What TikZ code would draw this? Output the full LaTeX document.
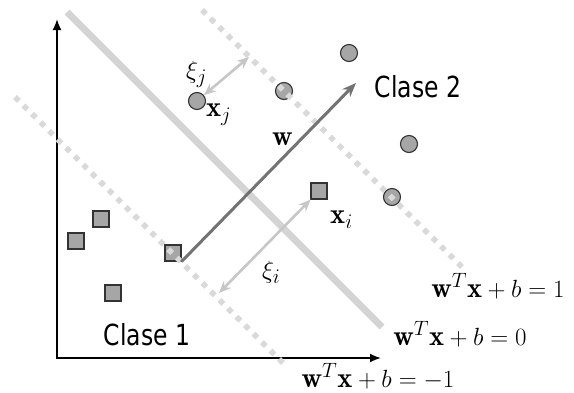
\documentclass[tikz,border=0pt]{standalone}
\usepackage{amsmath}
\usepackage{graphicx}
\usepackage{fontspec}
\newfontfamily\clasefont{DejaVu Sans}
\usetikzlibrary{arrows.meta,positioning}

\begin{document}
\begin{tikzpicture}[
  x=1pt, y=-1pt,
  axis/.style={{Latex[length=11pt,width=9pt]}-{Latex[length=11pt,width=9pt]}, line width=1.8pt, draw=black},
  plane/.style={line width=7pt, draw=black!17},
  margin/.style={line width=5.5pt, draw=black!15, dash pattern=on 5.5pt off 6.5pt},
  sqr/.style={rectangle, draw=black!80, fill=black!35, line width=1.1pt,
              minimum size=16pt, inner sep=0pt},
  crc/.style={circle, draw=black!80, fill=black!35, line width=1.1pt,
              minimum size=17pt, inner sep=0pt},
  normal/.style={-{Stealth[length=14pt,width=11pt]}, line width=3pt, draw=black!55},
  slack/.style={{Stealth[length=12pt,width=10pt]}-{Stealth[length=12pt,width=10pt]},
                line width=2.6pt, draw=black!22},
  clase/.style={inner sep=0pt, anchor=base, font=\clasefont\fontsize{29}{32}\selectfont},
  eq/.style={inner sep=0pt, anchor=base, font=\fontsize{28.5}{32}\selectfont},
  lbl/.style={inner sep=0pt, anchor=base west, font=\fontsize{28.5}{32}\selectfont},
]
\useasboundingbox (0,0) rectangle (574,392);

%% Coordinates: axes and hyperplanes
\coordinate (origin) at (57,358);
\coordinate (ytop)   at (57,19);
\coordinate (xend)   at (381,358);
\coordinate (h0a) at (67,12);   \coordinate (h0b) at (382,327);
\coordinate (hpa) at (202,10);  \coordinate (hpb) at (462,267);
\coordinate (hma) at (15,97);   \coordinate (hmb) at (287,367);

%% Axes and separating hyperplane
\draw[axis] (ytop) |- (xend);
\draw[plane] (h0a) -- (h0b);

%% Class 1 points
\node[sqr] (s1) at (76,241)  {};
\node[sqr] (s2) at (101,219) {};
\node[sqr] (s3) at (113,293) {};
\node[sqr] (s4) at (173,253) {};
\node[sqr] (xi) at (319,191) {};

%% Class 2 points
\node[crc] (xj) at (197,101) {};
\node[crc] (c1) at (284,91)  {};
\node[crc] (c2) at (349,53)  {};
\node[crc] (c3) at (409,144) {};
\node[crc] (c4) at (392,197) {};

%% Margins
\draw[margin] (hpa) -- (hpb);
\draw[margin] (hma) -- (hmb);

%% Normal vector and slacks
\coordinate (wtip) at (356,83);
\coordinate (mj) at (249,57);
\coordinate (mi) at (219,293);
\draw[normal] (s4.south east) -- (wtip);
\draw[slack] (xj) -- (mj);
\draw[slack] (xi) -- (mi);

%% Labels
\node[lbl] (lw)  at (272,145) {$\mathbf{w}$};
\node[lbl] (lxj) at (206,116) {$\mathbf{x}_j$};
\node[lbl] (lej) at (186,78)  {$\xi_j$};
\node[lbl] (lxi) at (330,223) {$\mathbf{x}_i$};
\node[lbl] (lei) at (262,278) {$\xi_i$};

\node[clase] (k2) at (418,97)  {\scalebox{0.81}[1]{Clase 2}};
\node[clase] (k1) at (147,345) {\scalebox{0.81}[1]{Clase 1}};

\node[eq] (e1) at (498,297) {$\mathbf{w}^T\mathbf{x}+b=1$};
\node[eq] (e0) at (460,345) {$\mathbf{w}^T\mathbf{x}+b=0$};
\node[eq] (em) at (378,387) {$\mathbf{w}^T\mathbf{x}+b=-1$};
\end{tikzpicture}
\end{document}
